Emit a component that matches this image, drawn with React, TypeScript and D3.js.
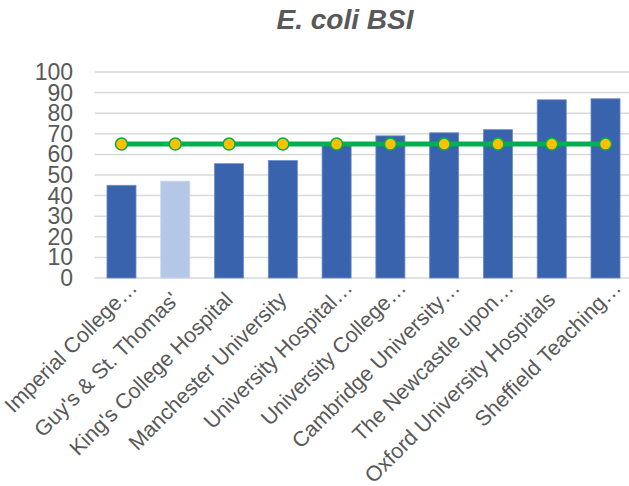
import React from "react";
import * as d3 from "d3";

const categories = [
  "Imperial College…",
  "Guy's & St. Thomas'",
  "King's College Hospital",
  "Manchester University",
  "University Hospital…",
  "University College…",
  "Cambridge University…",
  "The Newcastle upon…",
  "Oxford University Hospitals",
  "Sheffield Teaching…",
];
const values = [45, 47, 55.5, 57, 65, 69, 70.5, 72, 86.5, 87];
const highlighted = [false, true, false, false, false, false, false, false, false, false];
const benchmark = [65, 65, 65, 65, 65, 65, 65, 65, 65, 65];
const yTicks = [0, 10, 20, 30, 40, 50, 60, 70, 80, 90, 100];
const title = "E. coli BSI";

export default function App() {
  const W = 629, H = 486;
  const left = 94.6, right = 632.4, top = 72, bottom = 278;
  const x = d3.scaleBand<string>().domain(categories).range([left, right]).paddingInner(0.46).paddingOuter(0.23);
  const y = d3.scaleLinear().domain([0, 100]).range([bottom, top]);
  const cx = (c: string) => (x(c) as number) + x.bandwidth() / 2;
  const line = d3.line<number>().x((_, i) => cx(categories[i])).y((d) => y(d));
  const font = "Arial, 'Liberation Sans', sans-serif";
  return (
    <svg width={W} height={H} style={{ position: "absolute", left: 0, top: 0, background: "#fff" }} fontFamily={font}>
      <text x={345} y={29} textAnchor="middle" fontSize={28} fontWeight="bold" fontStyle="italic" fill="#595959">{title}</text>
      {yTicks.map((t) => (
        <g key={t}>
          <line x1={left} x2={W} y1={y(t)} y2={y(t)} stroke="#d9d9d9" strokeWidth={1.5} />
          <text x={73} y={y(t) + 8} textAnchor="end" fontSize={23} fill="#595959">{t}</text>
        </g>
      ))}
      {categories.map((c, i) => (
        <rect key={c} x={x(c)} y={y(values[i])} width={x.bandwidth()} height={y(0) - y(values[i])}
          fill={highlighted[i] ? "#b4c7e7" : "#3a63ad"} stroke={highlighted[i] ? "#c9d6ee" : "#6d8cc6"} strokeWidth={0.8} />
      ))}
      <path d={line(benchmark) || ""} fill="none" stroke="#00b050" strokeWidth={5} />
      {benchmark.map((v, i) => (
        <circle key={i} cx={cx(categories[i])} cy={y(v)} r={6} fill="#ffc000" stroke="#00b050" strokeWidth={1.5} />
      ))}
      {categories.map((c) => {
        const ell = c.endsWith("…");
        const ax = cx(c) + 5 + (ell ? 12 : 0);
        const ay = bottom + 23 - (ell ? 12 : 0);
        return (
          <text key={c} transform={`translate(${ax},${ay}) rotate(-45)`} textAnchor="end"
            fontSize={21.5} fill="#595959">{c}</text>
        );
      })}
    </svg>
  );
}
